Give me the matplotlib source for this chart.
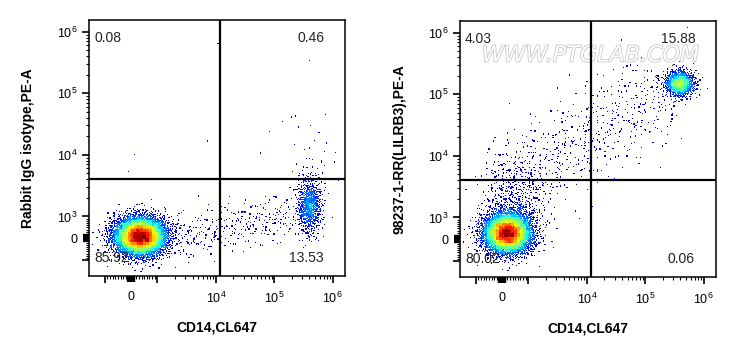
import numpy as np
import matplotlib
matplotlib.use("Agg")
import matplotlib.pyplot as plt
import matplotlib.patheffects as pe
from matplotlib.ticker import FixedLocator, FixedFormatter

plt.rcParams['font.family'] = ['Liberation Sans', 'DejaVu Sans']
plt.rcParams['mathtext.fontset'] = 'custom'
plt.rcParams['mathtext.rm'] = 'Liberation Sans'
plt.rcParams['mathtext.default'] = 'regular'

# ---- data ----
x_label = "CD14,CL647"
y_labels = ["Rabbit IgG isotype,PE-A", "98237-1-RR(LILRB3),PE-A"]
# quadrant percentages: UL, UR, LL, LR
quad_pct = [["0.08", "0.46", "85.92", "13.53"],
            ["4.03", "15.88", "80.02", "0.06"]]
gate_x = 1.2e4
gate_y = 4.0e3

# populations: centre (data units), spread (decades), events
iso_cx = [350, 4.0e5, 4.4e5]
iso_cy = [90, 1500, 7900]
iso_sx = [0.23, 0.11, 0.25]
iso_sy = [0.16, 0.24, 0.35]
iso_n = [4800, 650, 30]
# tail from the negative cluster towards CD14+ cells: start, end, width, events
iso_band = [(2050, 0), (1.98e5, 1040), 0.19, 280]
iso_out_x = [1.09e4, 7300, 125, -107, 4.0e5, 2.0e5, 1.4e5, 8.2e4, 5.8e5]
iso_out_y = [6.4e5, 1.68e4, 1.0e4, 5.4e3, 3.4e5, 4.1e4, 3.5e4, 2.4e4, 2.3e4]

lil_cx = [200, 507, 3.9e5]
lil_cy = [273, 1880, 1.5e5]
lil_sx = [0.21, 0.30, 0.13]
lil_sy = [0.17, 0.36, 0.11]
lil_n = [4300, 420, 850]
lil_band = [(-67, 2800), (2.3e5, 1.2e5), 0.36, 560]
lil_out_x = [5.3e5, 3.9e4]
lil_out_y = [1.2e6, 7.6e5]

# ---- logicle-like axis (linear around 0, log above 10^3) ----
AX, AY = 0.45, 0.355


def make_scale(a):
    def fwd(v):
        v = np.asarray(v, dtype=float)
        av = np.maximum(np.abs(v), 1e-12)
        return np.where(av <= 1000, v / 1000 * a,
                        np.sign(v) * (a + np.log10(np.maximum(av, 1000) / 1000)))

    def inv(u):
        u = np.asarray(u, dtype=float)
        au = np.abs(u)
        return np.where(au <= a, u / a * 1000,
                        np.sign(u) * 1000 * 10 ** (np.maximum(au, a) - a))
    return fwd, inv


fx, ifx = make_scale(AX)
fy, ify = make_scale(AY)


def halton(n, base, skip):
    i = np.arange(skip + 1, skip + n + 1)
    out = np.zeros(n)
    f = 1.0
    while np.any(i > 0):
        f /= base
        out += f * (i % base)
        i = i // base
    return out


def gauss2(n, skip, b1=2, b2=3):
    u1 = halton(n, b1, skip)
    u2 = halton(n, b2, skip)
    r = np.sqrt(-2 * np.log(u1))
    return r * np.cos(2 * np.pi * u2), r * np.sin(2 * np.pi * u2)


def events(cx, cy, sx, sy, n, band, ox, oy):
    xs, ys = [], []
    for k in range(len(cx)):
        z1, z2 = gauss2(n[k], 37 + 101 * k)
        xs.append(fx(cx[k]) + sx[k] * z1)
        ys.append(fy(cy[k]) + sy[k] * z2)
    (x0, y0), (x1, y1), w, nb = band
    t = halton(nb, 5, 11)
    z1, _ = gauss2(nb, 53, 7, 11)
    p0 = np.array([fx(x0), fy(y0)])
    p1 = np.array([fx(x1), fy(y1)])
    d = p1 - p0
    nrm = np.array([-d[1], d[0]]) / np.hypot(*d)
    xs.append(p0[0] + t * d[0] + w * z1 * nrm[0])
    ys.append(p0[1] + t * d[1] + w * z1 * nrm[1])
    xs.append(fx(ox))
    ys.append(fy(oy))
    return np.concatenate(xs), np.concatenate(ys)


xlim = (ifx(-0.72), ifx(AX + 3 + 0.21))
ylim = (ify(-0.613), ify(AY + 3 + 0.19))

fig = plt.figure(figsize=(7.36, 3.57), dpi=100)
ax1 = fig.add_axes([89 / 736, 81 / 357, 256 / 736, 256 / 357])
ax2 = fig.add_axes([460 / 736, 80 / 357, 256 / 736, 256 / 357])

panels = [(ax1, events(iso_cx, iso_cy, iso_sx, iso_sy, iso_n, iso_band, iso_out_x, iso_out_y)),
          (ax2, events(lil_cx, lil_cy, lil_sx, lil_sy, lil_n, lil_band, lil_out_x, lil_out_y))]

minor = [s * m for m in (100,) for s in range(-9, 10) if s != 0]
minor += [m * 10 ** k for k in (3, 4, 5) for m in range(2, 10)]

for i, (ax, (ux, uy)) in enumerate(panels):
    ax.set_xscale('function', functions=(fx, ifx))
    ax.set_yscale('function', functions=(fy, ify))
    ax.set_xlim(xlim)
    ax.set_ylim(ylim)

    # density colouring
    bw = 0.05
    bx = np.floor(ux / bw).astype(int)
    by = np.floor(uy / bw).astype(int)
    keys = bx * 10000 + by
    _, inv_idx, cnt = np.unique(keys, return_inverse=True, return_counts=True)
    c = cnt[inv_idx].astype(float)
    c = (c / c.max()) ** 0.75
    order = np.argsort(c)
    ax.scatter(ifx(ux[order]), ify(uy[order]), c=c[order], cmap='jet', vmin=0, vmax=1,
               s=0.8, marker='s', linewidths=0)

    ax.axvline(gate_x, color='black', lw=1.6)
    ax.axhline(gate_y, color='black', lw=1.6)

    ul, ur, ll, lr = quad_pct[i]
    kw = dict(transform=ax.transAxes, fontsize=10, color='#222222', zorder=3)
    ax.text(0.02, 0.93, ul, ha='left', va='center', **kw)
    ax.text(0.92, 0.93, ur, ha='right', va='center', **kw)
    ax.text(0.02, 0.07, ll, ha='left', va='center', **kw)
    ax.text(0.915, 0.07, lr, ha='right', va='center', **kw)

    ax.xaxis.set_major_locator(FixedLocator([-1000, 0, 1000, 1e4, 1e5, 1e6]))
    ax.xaxis.set_major_formatter(FixedFormatter(['', '0', '', '$10^4$', '$10^5$', '$10^6$']))
    ax.yaxis.set_major_locator(FixedLocator([-1000, 0, 1000, 1e4, 1e5, 1e6]))
    ax.yaxis.set_major_formatter(FixedFormatter(['', '0', '$10^3$', '$10^4$', '$10^5$', '$10^6$']))
    ax.xaxis.set_minor_locator(FixedLocator(minor))
    ax.yaxis.set_minor_locator(FixedLocator(minor))
    ax.tick_params(which='major', direction='out', length=5, width=1.2, labelsize=9, pad=3)
    ax.tick_params(which='minor', direction='out', length=2.5, width=0.8)
    ax.tick_params(axis='x', which='major', pad=6)
    for t in (ax.xaxis.get_major_ticks()[1], ax.yaxis.get_major_ticks()[1]):
        t.tick1line.set_markersize(4)
        t.tick1line.set_markeredgewidth(6)
    for s in ax.spines.values():
        s.set_linewidth(1.1)

    ax.set_xlabel(x_label, fontsize=10, fontweight='bold')
    ax.xaxis.set_label_coords(0.5, -0.175)
    ax.set_ylabel(y_labels[i], fontsize=10, fontweight='bold')
    ax.yaxis.set_label_coords(-0.21, 0.5)

ax2.text(0.51, 0.865, "WWW.PTGLAB.COM", transform=ax2.transAxes, ha='center', va='center',
         fontsize=16, family='DejaVu Sans', style='italic', color='white', zorder=1.5,
         path_effects=[pe.withStroke(linewidth=1.1, foreground='#c4c4c4')])

fig.savefig("out.png", dpi=100)
